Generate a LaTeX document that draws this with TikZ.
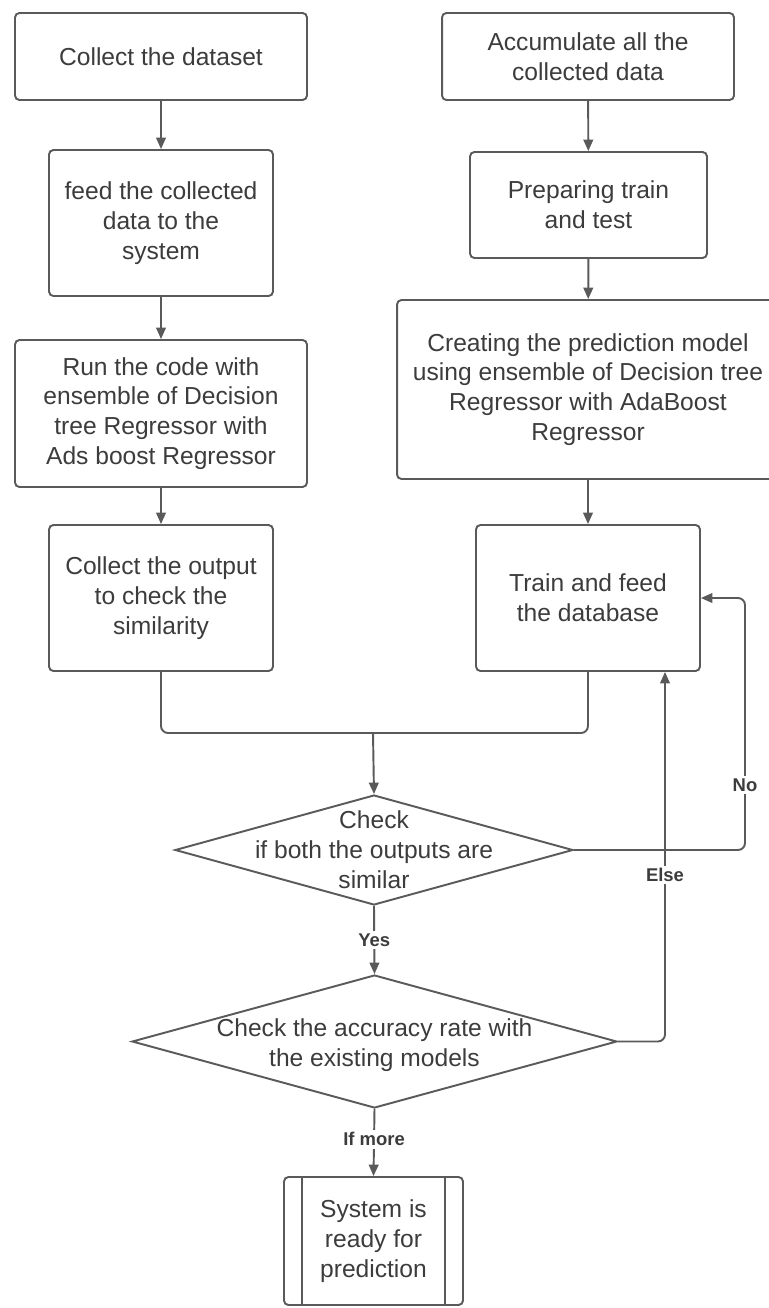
\documentclass[tikz,border=0pt]{standalone}
\usepackage{fontspec}
\setmainfont{Liberation Sans}
\usetikzlibrary{arrows.meta,shapes.geometric}
\definecolor{edgegray}{HTML}{5A5A5A}
\definecolor{inkgray}{HTML}{3C3C3C}

\begin{document}
\begin{tikzpicture}[x=0.02cm,y=-0.02cm,>={Triangle[length=6.5pt,width=5.5pt]},font=\fontsize{14}{17}\selectfont,
  box/.style={draw=edgegray,line width=1.1pt,rounded corners=2.5pt,align=center,text=inkgray,inner sep=0pt},
  dec/.style={draw=edgegray,line width=1.1pt,diamond,inner sep=0pt},
  dectext/.style={align=center,text=inkgray,inner sep=0pt},
  tag/.style={fill=white,font=\bfseries\fontsize{10.5}{12}\selectfont,text=inkgray,inner sep=1.5pt},
  flow/.style={->,draw=edgegray,line width=1.1pt},
  wire/.style={draw=edgegray,line width=1.1pt,rounded corners=4pt}]
\useasboundingbox (0,0) rectangle (768,1308);
% left column
\node[box,minimum width=5.84cm,minimum height=1.74cm] (collect) at (161,56.5) {Collect the dataset};
\node[box,minimum width=4.48cm,minimum height=2.92cm] (feed) at (161,223) {feed the collected\\data to the\\system};
\node[box,minimum width=5.84cm,minimum height=2.94cm] (run) at (161,413.5) {Run the code with\\ensemble of Decision\\tree Regressor with\\Ads boost Regressor};
\node[box,minimum width=4.48cm,minimum height=2.92cm] (output) at (161,598) {Collect the output\\to check the\\similarity};
% right column
\node[box,minimum width=5.84cm,minimum height=1.74cm] (accum) at (588,56.5) {Accumulate all the\\collected data};
\node[box,minimum width=4.74cm,minimum height=2.12cm] (prep) at (588.5,205) {Preparing train\\and test};
\node[box,minimum width=7.64cm,minimum height=3.58cm] (model) at (588,389.5) {Creating the prediction model\\using ensemble of Decision tree\\Regressor with AdaBoost\\Regressor};
\node[box,minimum width=4.48cm,minimum height=2.92cm] (train) at (588,598) {Train and feed\\the database};
\foreach \a/\b in {collect/feed,feed/run,run/output,accum/prep,prep/model,model/train}{\draw[flow] (\a)--(\b);}
% decisions
\node[dec,minimum width=7.96cm,minimum height=2.2cm] (chk1) at (374,850) {};
\node[dectext] (chk1txt) at (chk1) {Check\\if both the outputs are\\similar};
\node[dec,minimum width=9.7cm,minimum height=2.66cm] (chk2) at (374.5,1041.5) {};
\node[dectext] (chk2txt) at ([yshift=-0.08cm]chk2) {Check the accuracy rate with\\the existing models};
\node[box,minimum width=3.58cm,minimum height=2.56cm] (ready) at (373.5,1241) {System is\\ready for\\prediction};
\draw[edgegray,line width=1.1pt] ([xshift=0.38cm]ready.north west)--([xshift=0.38cm]ready.south west);
\draw[edgegray,line width=1.1pt] ([xshift=-0.38cm]ready.north east)--([xshift=-0.38cm]ready.south east);
% connectors
\coordinate (join) at (373,733);
\coordinate (noturn) at (745,850);
\coordinate (elsept) at ([xshift=1.54cm]train.south);
\draw[wire] (output.south) |- (join) -| (train.south);
\draw[flow] (join)--(chk1.north);
\draw[flow,rounded corners=4pt] (chk1.east)--(noturn) |- (train.east);
\draw[flow,rounded corners=4pt] (chk2.east) -| (elsept);
\draw[flow] (chk1.south)--node[tag]{Yes}(chk2.north);
\draw[flow] (chk2.south)--node[tag,pos=0.45]{If more}(ready.north);
\node[tag] (nolbl) at (745,785) {No};
\node[tag] (elselbl) at (665,875) {Else};
\end{tikzpicture}
\end{document}
